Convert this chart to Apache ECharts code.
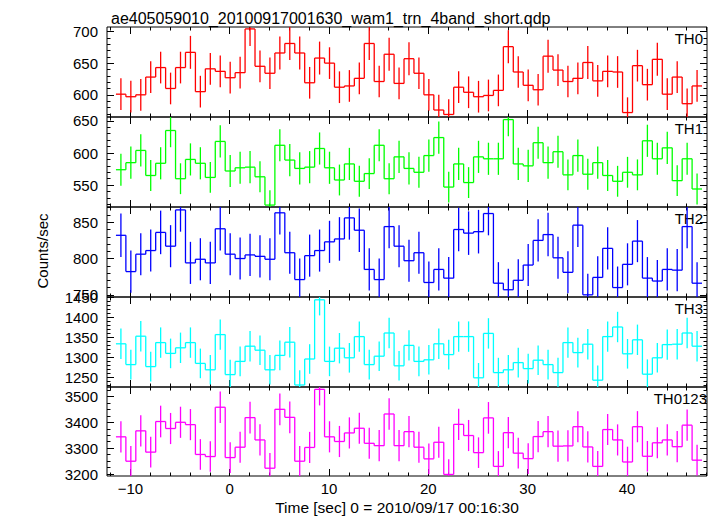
<!DOCTYPE html>
<html><head><meta charset="utf-8">
<script src="https://cdn.jsdelivr.net/npm/echarts@6/dist/echarts.min.js"></script>
<style>html,body{margin:0;padding:0;background:#fff}#c{width:717px;height:516px}</style>
</head><body><div id="c"></div>
<script>
// bin centres [sec]
const time = [-10.95,-9.95,-8.95,-7.95,-6.95,-5.95,-4.95,-3.95,-2.95,-1.95,-0.95,
  0.05,1.05,2.05,3.05,4.05,5.05,6.05,7.05,8.05,9.05,10.05,11.05,12.05,13.05,14.05,15.05,16.05,17.05,
  18.05,19.05,20.05,21.05,22.05,23.05,24.05,25.05,26.05,27.05,28.05,29.05,30.05,31.05,32.05,33.05,
  34.05,35.05,36.05,37.05,38.05,39.05,40.05,41.05,42.05,43.05,44.05,45.05,46.05,47.05];
const binWidth = 1.0;

const th0 = [601,597,600,628,643,610,643,667,605,641,637,
  627,635,704,645,634,666,681,666,619,658,650,612,614,626,681,621,664,618,
  657,634,600,576,569,612,604,597,599,607,676,636,615,608,661,639,621,626,651,622,637,636,572,646,616,656,601,628,586,614];
const err0 = [25,25,25,25,25,25,25,26,25,25,25,
  25,25,27,25,25,26,26,26,25,26,25,25,25,25,26,25,26,25,
  26,25,25,24,24,25,25,25,25,25,26,25,25,25,26,25,25,25,26,25,25,25,24,25,25,26,25,25,24,25];

const th1 = [574,585,604,565,584,635,560,590,584,562,618,
  572,577,578,563,519,612,589,576,578,607,577,558,583,556,568,612,560,594,
  576,570,596,624,547,583,554,594,591,591,652,583,580,616,585,602,566,596,567,585,565,556,570,566,619,591,608,557,591,544];
const err1 = [25,25,25,24,25,26,24,25,25,24,25,
  25,25,25,24,23,25,25,25,25,25,25,24,25,24,24,25,24,25,
  25,24,25,25,24,25,24,25,25,25,26,25,25,25,25,25,24,25,24,25,24,24,24,24,25,25,25,24,25,24];

const th2 = [832,782,806,811,836,817,867,794,799,794,841,
  806,800,805,803,799,863,808,771,804,811,823,827,856,839,785,771,844,817,
  797,808,767,785,773,840,835,837,862,766,757,770,791,825,833,801,781,846,750,774,814,760,792,824,773,769,785,784,844,766];
const err2 = [30,29,29,29,30,29,30,29,29,29,30,
  29,29,29,29,29,30,29,29,29,29,29,30,30,30,29,29,30,29,
  29,29,29,29,29,30,30,30,30,29,29,29,29,29,30,29,29,30,29,29,29,29,29,29,29,29,29,29,30,29];

const th3 = [1334,1282,1353,1277,1337,1310,1324,1337,1285,1269,1357,
  1257,1290,1328,1318,1269,1305,1338,1231,1296,1444,1290,1323,1299,1352,1282,1303,1361,1279,
  1330,1290,1294,1334,1307,1352,1352,1249,1360,1262,1269,1287,1272,1293,1282,1262,1337,1312,1333,1243,1352,1376,1309,1344,1258,1299,1332,1333,1361,1328];
const err3 = [38,37,38,37,38,37,38,38,37,37,38,
  37,37,38,37,37,37,38,37,37,39,37,38,37,38,37,37,38,37,
  38,37,37,38,37,38,38,37,38,37,37,37,37,37,37,37,38,37,38,37,38,38,37,38,37,37,38,38,38,38];

const th0123 = [3344,3250,3367,3285,3403,3376,3400,3391,3276,3268,3458,
  3264,3304,3418,3332,3223,3450,3419,3250,3303,3527,3344,3326,3359,3377,3319,3310,3432,3310,
  3364,3304,3259,3323,3199,3392,3349,3283,3417,3230,3360,3281,3260,3345,3364,3308,3309,3383,3305,3230,3372,3332,3247,3383,3269,3321,3332,3306,3389,3254];
const err0123 = [60,59,60,59,61,60,60,60,59,59,61,
  59,60,61,60,59,61,61,59,60,62,60,60,60,60,60,60,61,60,
  60,60,59,60,59,60,60,59,61,59,60,59,59,60,60,60,60,60,60,59,60,60,59,60,59,60,60,60,60,59];

const xMajor = [-10,0,10,20,30,40];
const xMinor = [-12,-10,-8,-6,-4,-2,0,2,4,6,8,10,12,14,16,18,20,22,24,26,28,30,32,34,36,38,40,42,44,46,48];

const panelNames = ['TH0','TH1','TH2','TH3','TH0123'];
const panelColors = ['#ff0000','#00ff00','#0000ff','#00ffff','#ff00ff'];
const yMin = [565,516,747,1226,3193];
const yMax = [707,656,871,1451,3536];
const yMajor = [[600,650,700],[550,600,650],[750,800,850],[1250,1300,1350,1400,1450],[3200,3300,3400,3500]];
const yMinor = [
  [570,580,590,600,610,620,630,640,650,660,670,680,690,700],
  [520,530,540,550,560,570,580,590,600,610,620,630,640,650],
  [750,760,770,780,790,800,810,820,830,840,850,860,870],
  [1230,1240,1250,1260,1270,1280,1290,1300,1310,1320,1330,1340,1350,1360,1370,1380,1390,1400,1410,1420,1430,1440,1450],
  [3200,3225,3250,3275,3300,3325,3350,3375,3400,3425,3450,3475,3500,3525]
];
const values = [th0, th1, th2, th3, th0123];
const errors = [err0, err1, err2, err3, err0123];

const FONT = 'Liberation Sans, Arial, Helvetica, sans-serif';
const gridTop = [27, 117, 207, 297, 387];
const gridH = [90, 90, 90, 90, 89];
const xMin = -12.35, xMax = 48.05;

const chart = echarts.init(document.getElementById('c'), null, {renderer: 'svg'});

const grids = [], xAxes = [], yAxes = [], series = [], graphics = [];
const minus = v => String(v).replace('-', '\u2212');
const plain = v => String(v);

for (let i = 0; i < 5; i++) {
  grids.push({left: 107, right: 10, top: gridTop[i], height: gridH[i], show: true,
    borderColor: '#000', borderWidth: 1, backgroundColor: 'transparent'});
  const tickStyle = {color: '#000', width: 1};
  ['bottom', 'top'].forEach(pos => {
    xAxes.push({gridIndex: i, type: 'value', min: xMin, max: xMax, position: pos,
      axisLine: {show: false, onZero: false}, splitLine: {show: false},
      axisTick: {show: true, inside: true, length: 7, customValues: xMajor, lineStyle: tickStyle},
      axisLabel: {show: i === 4 && pos === 'bottom', customValues: xMajor, formatter: minus,
        fontFamily: FONT, fontSize: 15, color: '#000', margin: 5}});
  });
  ['bottom', 'top'].forEach(pos => {
    xAxes.push({gridIndex: i, type: 'value', min: xMin, max: xMax, position: pos,
      axisLine: {show: false, onZero: false}, splitLine: {show: false},
      axisTick: {show: true, inside: true, length: 3.5, customValues: xMinor, lineStyle: tickStyle},
      axisLabel: {show: false}});
  });
  ['left', 'right'].forEach(pos => {
    yAxes.push({gridIndex: i, type: 'value', min: yMin[i], max: yMax[i], position: pos,
      axisLine: {show: false, onZero: false}, splitLine: {show: false},
      axisTick: {show: true, inside: true, length: 7, customValues: yMajor[i], lineStyle: tickStyle},
      axisLabel: {show: pos === 'left', customValues: yMajor[i], formatter: plain, fontFamily: FONT, fontSize: 15,
        color: '#000', margin: 9}});
  });
  ['left', 'right'].forEach(pos => {
    yAxes.push({gridIndex: i, type: 'value', min: yMin[i], max: yMax[i], position: pos,
      axisLine: {show: false, onZero: false}, splitLine: {show: false},
      axisTick: {show: true, inside: true, length: 3.5, customValues: yMinor[i], lineStyle: tickStyle},
      axisLabel: {show: false}});
  });

  const vals = values[i], errs = errors[i], color = panelColors[i];
  const data = time.map((t, j) => [t, vals[j], errs[j]]);
  series.push({
    type: 'custom', xAxisIndex: i * 4, yAxisIndex: i * 4, clip: true, silent: true,
    data: data, encode: {x: 0, y: 1},
    renderItem: function (params, api) {
      const j = params.dataIndex;
      const x = api.value(0), y = api.value(1), e = api.value(2);
      const h = binWidth / 2;
      const a = api.coord([x - h, y]), b = api.coord([x + h, y]);
      const eLo = api.coord([x, y - e]), eHi = api.coord([x, y + e]);
      const style = {stroke: color, lineWidth: 1.3, fill: null};
      const children = [
        {type: 'line', shape: {x1: a[0], y1: a[1], x2: b[0], y2: b[1]}, style: style},
        {type: 'line', shape: {x1: eLo[0], y1: eLo[1], x2: eHi[0], y2: eHi[1]}, style: style}
      ];
      if (j < vals.length - 1) {
        const n = api.coord([x + h, vals[j + 1]]);
        children.push({type: 'line', shape: {x1: b[0], y1: b[1], x2: n[0], y2: n[1]}, style: style});
      }
      const cs = params.coordSys;
      return {type: 'group', children: children,
        clipPath: {type: 'rect', shape: {x: cs.x, y: cs.y, width: cs.width, height: cs.height}}};
    }
  });

  const isLong = panelNames[i].length > 3;
  graphics.push({type: 'text', right: isLong ? 10 : 14, top: gridTop[i] + 4,
    style: {text: panelNames[i], font: '15px ' + FONT, fill: '#000'}});
}

graphics.push({type: 'text', x: 42, y: 251, rotation: Math.PI / 2,
  style: {text: 'Counts/sec', font: '15px ' + FONT, fill: '#000', textAlign: 'center', textVerticalAlign: 'middle'}});
graphics.push({type: 'text', x: 397, y: 507,
  style: {text: 'Time [sec] 0 = 2010/09/17 00:16:30', font: '15.5px ' + FONT, fill: '#000', textAlign: 'center', textVerticalAlign: 'middle'}});

chart.setOption({
  animation: false,
  backgroundColor: '#fff',
  title: {text: 'ae405059010_20100917001630_wam1_trn_4band_short.qdp', left: 106, top: 5,
    textStyle: {fontFamily: FONT, fontSize: 16, fontWeight: 'normal', color: '#000'}},
  grid: grids, xAxis: xAxes, yAxis: yAxes, series: series, graphic: graphics
});
</script></body></html>
